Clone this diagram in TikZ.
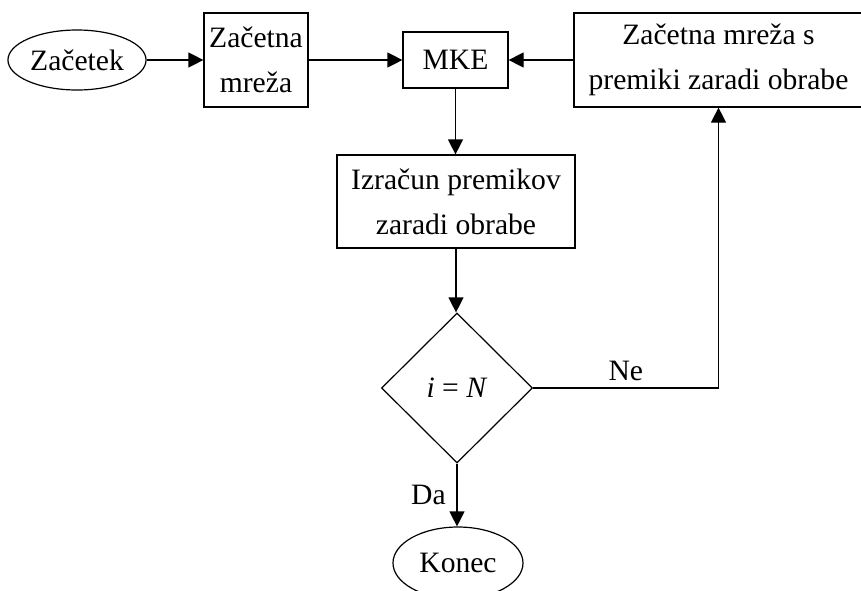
\documentclass[tikz,border=0pt]{standalone}
\usepackage{fontspec}
\setmainfont{Liberation Serif}
\usepackage{tikz}
\usetikzlibrary{shapes,arrows.meta}
\usetikzlibrary{positioning}
\tikzstyle{line} = [draw, line width=0.6pt, -{Triangle[length=7.5pt,width=7.5pt]}]

\begin{document}
\begin{tikzpicture}[x=0.5pt, y=-0.5pt,
	every node/.style={font=\fontsize{14.8}{22.5}\selectfont},
	box/.style={draw, rectangle, line width=0.6pt, align=center, inner sep=2pt},
	term/.style={draw, ellipse, line width=0.6pt, inner sep=1pt},
	decision/.style={draw, diamond, aspect=1, line width=0.6pt, inner sep=1pt}]
	\useasboundingbox (0,0) rectangle (861,590);
	%% Nodes
	\node [term, minimum width=65pt, minimum height=30pt] at (77,60) (Zac) {Začetek};
	\node [box, minimum width=52pt, minimum height=47pt] at (256,60) (Mreza) {Začetna\\mreža};
	\node [box, minimum width=52.5pt, minimum height=28pt] at (455.5,60) (MKE) {MKE};
	\node [box, minimum width=144.5pt, minimum height=47pt] at (718.5,60) (NovaMreza) {Začetna mreža s\\premiki zaradi obrabe};
	\node [box, minimum width=119pt, minimum height=46.5pt] at (456,201.5) (Premiki) {Izračun premikov\\zaradi obrabe};
	\node [decision, minimum width=75.5pt, minimum height=75pt] at (457,388) (Pogoj) {\textit{i} = \textit{N}};
	\node [term, minimum width=65pt, minimum height=36pt] at (458,563) (Konec) {Konec};
	%% Flows
	\path [line] (Zac) -- (Mreza);
	\path [line] (Mreza) -- (MKE);
	\path [line] (NovaMreza.west) -- (MKE.east);
	\path [line] (MKE.south) -- (MKE.south |- Premiki.north);
	\path [line] (Premiki.south) -- (Premiki.south |- Pogoj.north);
	\path [line] (Pogoj.south) to node [midway, left, xshift=-2pt] {Da} (Pogoj.south |- Konec.north);
	\path [line] (Pogoj.east) -| node [pos=0.25, above] {Ne} (NovaMreza.south);
\end{tikzpicture}
\end{document}
